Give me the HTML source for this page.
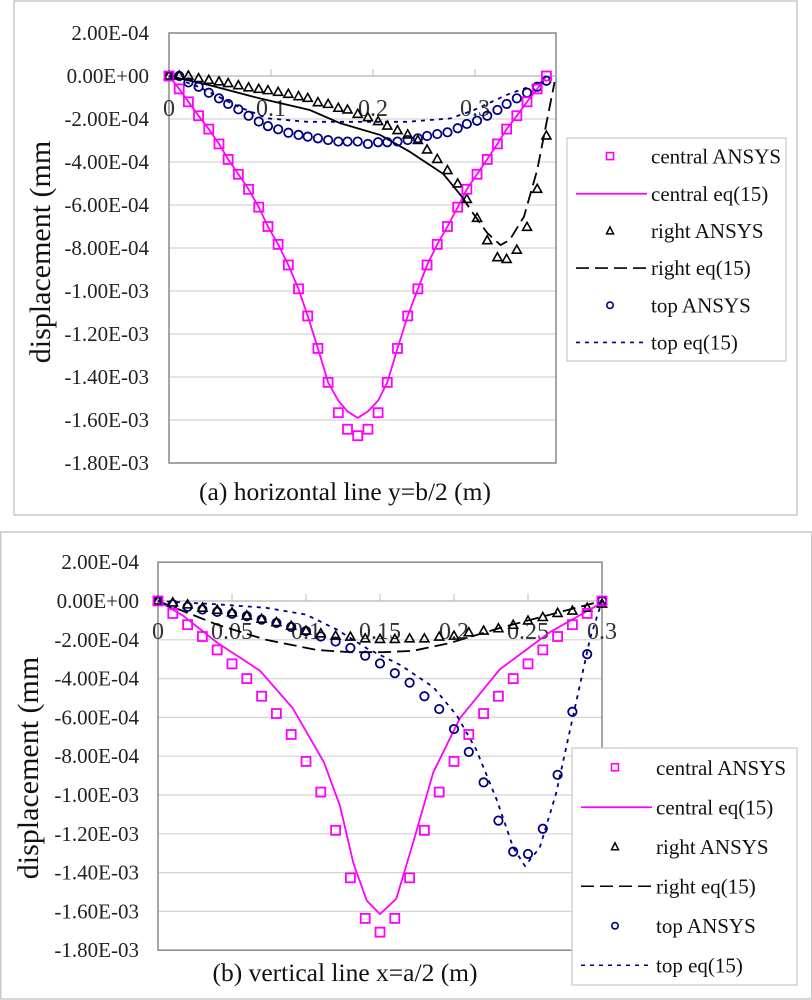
<!DOCTYPE html>
<html><head><meta charset="utf-8">
<style>
body{margin:0;background:#fff;}
svg{display:block;font-family:"Liberation Serif",serif;}
</style></head>
<body>
<svg id="c" width="812" height="1000" xmlns="http://www.w3.org/2000/svg"></svg>
<script>
// ---- Chart (a) data: x in m, displacement in units of 1e-4 mm ----
const aX = [0,0.010,0.019,0.029,0.039,0.049,0.058,0.068,0.078,0.088,0.097,0.107,0.117,0.127,0.136,0.146,0.156,0.166,0.175,0.185,0.195,0.205,0.214,0.224,0.234,0.244,0.253,0.263,0.273,0.283,0.292,0.302,0.312,0.322,0.331,0.341,0.351,0.361,0.370];
const aCentralAnsys = [0,-0.6,-1.2,-1.85,-2.47,-3.16,-3.88,-4.57,-5.27,-6.1,-7.0,-7.83,-8.79,-9.9,-11.16,-12.67,-14.25,-15.66,-16.43,-16.73,-16.43,-15.66,-14.25,-12.67,-11.16,-9.9,-8.79,-7.83,-7.0,-6.1,-5.27,-4.57,-3.88,-3.16,-2.47,-1.85,-1.2,-0.6,0];
const aCentralEq = [0,-0.6,-1.2,-1.85,-2.47,-3.16,-3.88,-4.57,-5.27,-6.1,-7.0,-7.83,-8.79,-9.9,-11.16,-12.67,-14.25,-15.1,-15.6,-15.9,-15.6,-15.1,-14.25,-12.67,-11.16,-9.9,-8.79,-7.83,-7.0,-6.1,-5.27,-4.57,-3.88,-3.16,-2.47,-1.85,-1.2,-0.6,0];
const aRightAnsys = [0,0,0,-0.12,-0.2,-0.27,-0.35,-0.45,-0.55,-0.62,-0.68,-0.76,-0.85,-0.96,-1.04,-1.24,-1.32,-1.5,-1.58,-1.78,-1.94,-2.12,-2.33,-2.54,-2.74,-3.0,-3.44,-3.88,-4.4,-5.02,-5.74,-6.62,-7.66,-8.45,-8.53,-8.1,-7.04,-5.27,-2.79];
const aRightEqX = [0,0.040,0.089,0.138,0.168,0.207,0.236,0.269,0.287,0.298,0.312,0.325,0.334,0.348,0.361,0.370,0.378];
const aRightEq = [0,-0.43,-1.04,-1.58,-2.2,-2.74,-3.52,-4.56,-5.6,-6.38,-7.3,-7.86,-7.63,-6.54,-4.37,-2.2,-0.28];
const aTopAnsys = [0,0,-0.3,-0.5,-0.78,-1.04,-1.3,-1.55,-1.85,-2.12,-2.33,-2.48,-2.64,-2.74,-2.82,-2.9,-2.98,-3.05,-3.05,-3.05,-3.16,-3.08,-3.08,-3.05,-2.98,-2.9,-2.79,-2.7,-2.62,-2.43,-2.23,-2.08,-1.85,-1.58,-1.3,-1.04,-0.78,-0.5,-0.22];
const aTopEqX = [0,0.029,0.068,0.097,0.136,0.185,0.234,0.276,0.299,0.331,0.376];
const aTopEq = [0,-0.5,-1.43,-1.97,-2.13,-2.13,-2.13,-1.97,-1.58,-0.88,-0.1];
const aXTicks = [0,0.1,0.2,0.3];
const aXTickLabels = ["0","0.1","0.2","0.3"];
const yTicks = [2,0,-2,-4,-6,-8,-10,-12,-14,-16,-18];
const yTickLabels = ["2.00E-04","0.00E+00","-2.00E-04","-4.00E-04","-6.00E-04","-8.00E-04","-1.00E-03","-1.20E-03","-1.40E-03","-1.60E-03","-1.80E-03"];

// ---- Chart (b) data ----
const bX = [0,0.01,0.02,0.03,0.04,0.05,0.06,0.07,0.08,0.09,0.10,0.11,0.12,0.13,0.14,0.15,0.16,0.17,0.18,0.19,0.20,0.21,0.22,0.23,0.24,0.25,0.26,0.27,0.28,0.29,0.30];
const bCentralAnsys = [0,-0.64,-1.22,-1.83,-2.52,-3.24,-4.0,-4.91,-5.8,-6.88,-8.27,-9.85,-11.82,-14.27,-16.36,-17.07,-16.36,-14.27,-11.82,-9.85,-8.27,-6.88,-5.8,-4.91,-4.0,-3.24,-2.52,-1.83,-1.22,-0.64,0];
const bCentralEqX = [0,0.017,0.040,0.069,0.091,0.112,0.123,0.132,0.141,0.150,0.161,0.173,0.186,0.204,0.231,0.265,0.300];
const bCentralEq = [0,-0.76,-2.15,-3.6,-5.52,-8.3,-10.56,-13.52,-15.44,-16.14,-15.35,-12.3,-8.83,-6.04,-3.52,-1.6,-0.09];
const bRightAnsys = [0,-0.1,-0.2,-0.37,-0.48,-0.61,-0.77,-0.94,-1.11,-1.3,-1.55,-1.69,-1.81,-1.86,-1.95,-1.98,-1.98,-1.95,-1.95,-1.86,-1.81,-1.64,-1.55,-1.43,-1.25,-1.03,-0.85,-0.64,-0.52,-0.37,-0.16];
const bRightEqX = [0,0.040,0.073,0.107,0.130,0.152,0.172,0.197,0.231,0.265,0.300];
const bRightEq = [0,-1.22,-2.0,-2.52,-2.64,-2.64,-2.57,-2.17,-1.39,-0.7,0];
const bTopAnsys = [0,-0.17,-0.3,-0.44,-0.56,-0.66,-0.78,-0.96,-1.13,-1.34,-1.55,-1.83,-2.09,-2.42,-2.82,-3.22,-3.72,-4.21,-4.91,-5.57,-6.6,-7.78,-9.35,-11.32,-12.92,-13.04,-11.74,-8.96,-5.71,-2.74,0];
const bTopEqX = [0,0.040,0.073,0.100,0.121,0.141,0.164,0.186,0.202,0.215,0.229,0.240,0.248,0.258,0.269,0.281,0.292,0.300];
const bTopEq = [0,-0.17,-0.35,-0.7,-1.48,-2.44,-3.31,-4.44,-5.92,-7.66,-10.27,-12.71,-13.66,-12.71,-9.92,-5.74,-1.91,0];
const bXTicks = [0,0.05,0.1,0.15,0.2,0.25,0.3];
const bXTickLabels = ["0","0.05","0.1","0.15","0.2","0.25","0.3"];

const NS="http://www.w3.org/2000/svg";
const svg=document.getElementById('c');
function mk(tag,attrs,parent){const e=document.createElementNS(NS,tag);for(const k in attrs)e.setAttribute(k,attrs[k]);(parent||svg).appendChild(e);return e;}

function chart(o){
  const g=mk('g',{});
  
  
  const sx=v=>o.x0+v*o.xs, sy=v=>o.y0-v*o.ys;
  const fr=mk('rect',{x:o.frame[0],y:o.frame[1],width:o.frame[2],height:o.frame[3],fill:'#fff',stroke:'#c8c8c8','stroke-width':1.5},g);
  
  
  yTicks.forEach((t,i)=>{
    const y=sy(t);
    if(t<2&&t>-18){const l=mk('line',{x1:o.px0,x2:o.px1,y1:y,y2:y,stroke:'#d4d4d4','stroke-width':1.2},g);
      
      }
    const tx=mk('text',{x:o.labX,y:y+7,'text-anchor':'end','font-size':21,fill:'#222'},g);
    tx.textContent=yTickLabels[i];
    
    
  });
  const pb=mk('rect',{x:o.px0,y:sy(2),width:o.px1-o.px0,height:sy(-18)-sy(2),fill:'none',stroke:'#888','stroke-width':1.5},g);
  
  
  const xa=mk('line',{x1:o.px0,x2:o.px1,y1:sy(0),y2:sy(0),stroke:'#bbb','stroke-width':1.2},g);
  
  
  o.xt.forEach((t,i)=>{
    const x=sx(t);
    mk('line',{x1:x,x2:x,y1:sy(0)-7,y2:sy(0),stroke:'#bbb'},g);
    const tx=mk('text',{x:x,y:sy(0)+o.xtOff,'text-anchor':'middle','font-size':o.xtFs,fill:'#333'},g);
    tx.textContent=o.xl[i];
    
    
  });
  const path=(xs,ys)=>xs.map((x,i)=>(i?'L':'M')+sx(x).toFixed(1)+' '+sy(ys[i]).toFixed(1)).join(' ');
  let p=mk('path',{d:path(o.ceX,o.ce),fill:'none',stroke:'#ff00ff','stroke-width':1.8},g);
  
  
  const n=o.reSolidN;
  if(n>0){
    p=mk('path',{d:path(o.reX.slice(0,n+1),o.re.slice(0,n+1)),fill:'none',stroke:'#000','stroke-width':1.8},g);
    
    
  }
  p=mk('path',{d:path(o.reX.slice(n),o.re.slice(n)),fill:'none',stroke:'#000','stroke-width':1.8,'stroke-dasharray':'13 6'},g);
  
  
  p=mk('path',{d:path(o.teX,o.te),fill:'none',stroke:'#000080','stroke-width':1.8,'stroke-dasharray':'4 5'},g);
  
  
  o.xs_.forEach((x,i)=>{
    const X=sx(x);
    let m=mk('circle',{cx:X,cy:sy(o.ta[i]),r:4.2,fill:'none',stroke:'#000080','stroke-width':1.8},g);
    
    
    const Y=sy(o.ra[i]);
    m=mk('path',{d:`M${X} ${Y-5}L${X+4.5} ${Y+3}L${X-4.5} ${Y+3}Z`,fill:'none',stroke:'#000','stroke-width':1.6},g);
    
    
    m=mk('rect',{x:X-4.5,y:sy(o.ca[i])-4.5,width:9,height:9,fill:'none',stroke:'#ff00ff','stroke-width':1.8},g);
    
    
  });
  const yt=mk('text',{x:0,y:0,transform:`translate(${o.ytX},${o.ytY}) rotate(-90)`,'text-anchor':'middle','font-size':30,fill:'#111'},g);
  yt.textContent='displacement (mm';
  
  
  const ct=mk('text',{x:o.capX,y:o.capY,'text-anchor':'middle','font-size':25.5,fill:'#111'},g);
  ct.textContent=o.cap;
  
  
  const L=o.leg;
  const lg=mk('g',{},g);
  
  
  mk('rect',{x:L[0],y:L[1],width:L[2],height:L[3],fill:'#fff',stroke:'#c8c8c8','stroke-width':1.2},lg);
  const names=['central ANSYS','central eq(15)','right ANSYS','right eq(15)','top ANSYS','top eq(15)'];
  const step=L[3]/6;
  names.forEach((nm,i)=>{
    const cy=L[1]+step*(i+0.5);
    const sxm=L[0]+43, lx0=L[0]+9, lx1=L[0]+80;
    const e=mk('g',{},lg);
    
    
    if(i==0)mk('rect',{x:sxm-3.5,y:cy-4,width:7,height:7,fill:'none',stroke:'#ff00ff','stroke-width':1.6},e);
    if(i==1)mk('line',{x1:lx0,x2:lx1,y1:cy,y2:cy,stroke:'#ff00ff','stroke-width':1.8},e);
    if(i==2)mk('path',{d:`M${sxm} ${cy-4}L${sxm+3.5} ${cy+3}L${sxm-3.5} ${cy+3}Z`,fill:'none',stroke:'#000','stroke-width':1.5},e);
    if(i==3)mk('line',{x1:lx0,x2:lx1,y1:cy,y2:cy,stroke:'#000','stroke-width':1.6,'stroke-dasharray':'13 6'},e);
    if(i==4)mk('circle',{cx:sxm,cy:cy,r:3.2,fill:'none',stroke:'#000080','stroke-width':1.6},e);
    if(i==5)mk('line',{x1:lx0,x2:lx1,y1:cy,y2:cy,stroke:'#000080','stroke-width':1.6,'stroke-dasharray':'4 5'},e);
    const t=mk('text',{x:L[0]+84,y:cy+7,'font-size':21,fill:'#111'},e);
    t.textContent=nm;
  });
}

chart({name:'chart-a-horizontal-line',frame:[14,1,783,514],x0:169,xs:1020,y0:76,ys:21.5,px0:169,px1:556,labX:149,
  xt:aXTicks,xl:aXTickLabels,xtOff:40,xtFs:24,
  xs_:aX,ca:aCentralAnsys,ra:aRightAnsys,ta:aTopAnsys,
  ceX:aX,ce:aCentralEq,reX:aRightEqX,re:aRightEq,reSolidN:8,teX:aTopEqX,te:aTopEq,
  ytX:50,ytY:252,cap:'(a) horizontal line y=b/2 (m)',capX:345,capY:500,leg:[567,138,219,223]});

chart({name:'chart-b-vertical-line',frame:[0.75,532,811,467],x0:158,xs:1480,y0:601,ys:19.4,px0:158,px1:602,labX:139,
  xt:bXTicks,xl:bXTickLabels,xtOff:38,xtFs:24,
  xs_:bX,ca:bCentralAnsys,ra:bRightAnsys,ta:bTopAnsys,
  ceX:bCentralEqX,ce:bCentralEq,reX:bRightEqX,re:bRightEq,reSolidN:0,teX:bTopEqX,te:bTopEq,
  ytX:38,ytY:768,cap:'(b) vertical line x=a/2 (m)',capX:345,capY:981,leg:[572,748,225,237]});
</script>
</body></html>
